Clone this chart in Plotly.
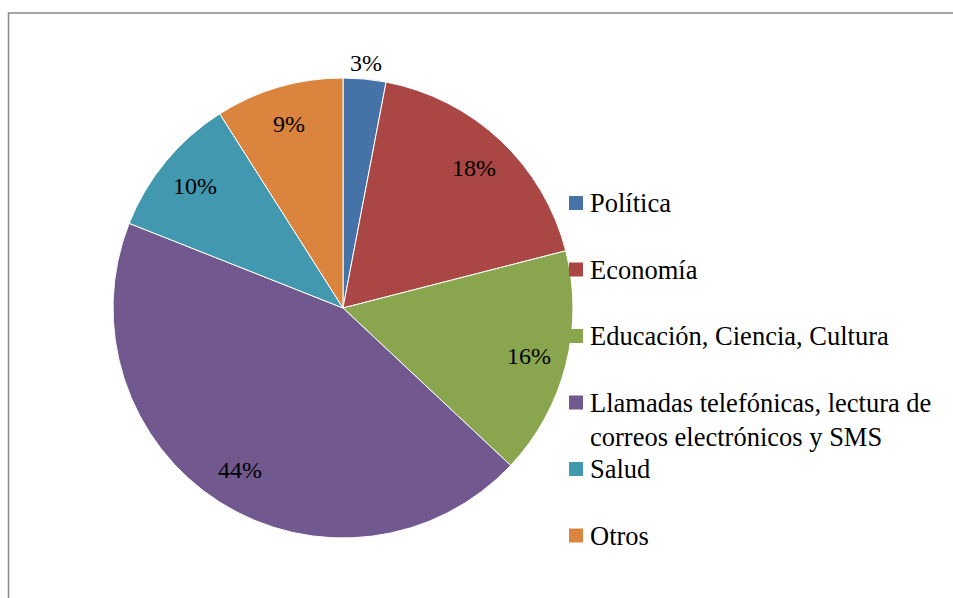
import math
import plotly.graph_objects as go

# Distribución del uso (porcentaje por tema)
categories = [
    "Política",
    "Economía",
    "Educación, Ciencia, Cultura",
    "Llamadas telefónicas, lectura de<br>correos electrónicos y SMS",
    "Salud",
    "Otros",
]
values = [3, 18, 16, 44, 10, 9]
colors = ["#4572A7", "#AA4643", "#89A54E", "#71588F", "#4198AF", "#DB843D"]

W, H = 953, 598
FONT = "Liberation Serif"
LABEL_FS = 24
LEGEND_FS = 26.5

# pie geometry in pixels
cx, cy, r = 343, 308, 230

fig = go.Figure(
    go.Pie(
        labels=categories,
        values=values,
        sort=False,
        direction="clockwise",
        rotation=0,
        textinfo="none",
        showlegend=False,
        marker=dict(colors=colors, line=dict(color="white", width=1)),
        domain=dict(x=[(cx - r) / W, (cx + r) / W], y=[1 - (cy + r) / H, 1 - (cy - r) / H]),
        hovertemplate="%{label}: %{value}%<extra></extra>",
    )
)

annotations = []
shapes = []

# percentage labels placed along each slice bisector
total = sum(values)
cum = 0
for v in values:
    mid = (cum + v / 2) / total * 2 * math.pi
    cum += v
    f = 1.07 if v / total < 0.05 else 0.835
    px = cx + f * r * math.sin(mid)
    py = cy - f * r * math.cos(mid)
    annotations.append(
        dict(
            x=px / W, y=1 - py / H, xref="paper", yref="paper",
            text=f"{v}%", showarrow=False, xanchor="center", yanchor="middle",
            font=dict(family=FONT, size=LABEL_FS, color="black"),
        )
    )

# legend: every entry occupies two text rows
row_h = 33.25
leg_top = 203
sq = 14
sq_x = 569
txt_x = 588
for i, (name, col) in enumerate(zip(categories, colors)):
    y_line1 = leg_top + i * 2 * row_h
    nlines = name.count("<br>") + 1
    shapes.append(
        dict(
            type="rect", xref="paper", yref="paper",
            x0=sq_x / W, x1=(sq_x + sq) / W,
            y0=1 - (y_line1 + sq / 2) / H, y1=1 - (y_line1 - sq / 2) / H,
            fillcolor=col, line=dict(width=0),
        )
    )
    annotations.append(
        dict(
            x=txt_x / W, y=1 - (y_line1 + (nlines - 1) * LEGEND_FS * 1.3 / 2) / H,
            xref="paper", yref="paper", text=name, showarrow=False,
            xanchor="left", yanchor="middle", align="left",
            font=dict(family=FONT, size=LEGEND_FS, color="black"),
        )
    )

# chart frame
shapes.append(
    dict(
        type="rect", xref="paper", yref="paper",
        x0=8.5 / W, x1=1.02, y0=-0.02, y1=1 - 13 / H,
        line=dict(color="#8A8A8A", width=1.5), fillcolor="rgba(0,0,0,0)",
        layer="below",
    )
)

fig.update_layout(
    width=W, height=H,
    margin=dict(l=0, r=0, t=0, b=0),
    paper_bgcolor="white",
    plot_bgcolor="white",
    font=dict(family=FONT, size=LABEL_FS, color="black"),
    showlegend=False,
    annotations=annotations,
    shapes=shapes,
)

fig.write_html("out.html")
